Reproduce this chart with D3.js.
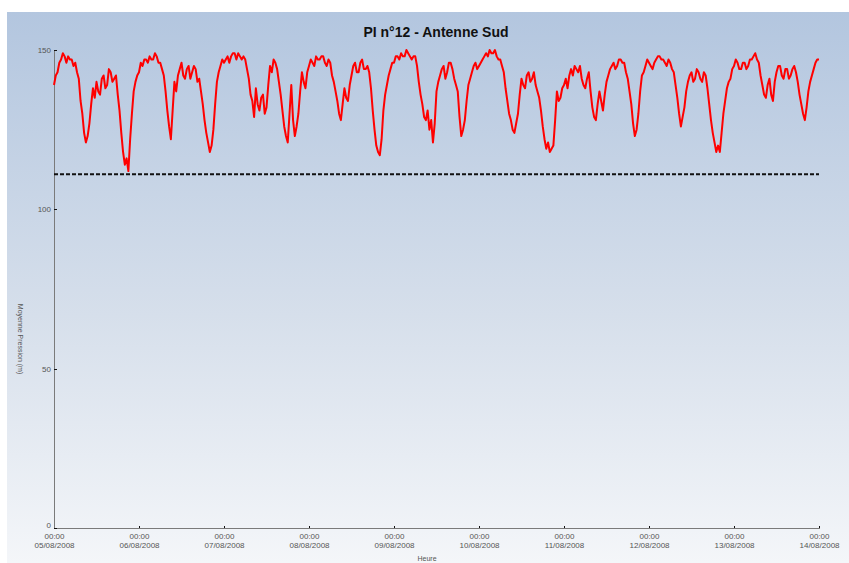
<!DOCTYPE html>
<meta charset="utf-8">
<title>PI n°12 - Antenne Sud</title>
<style>

body {
  margin: 0;
  background: #fff;
  font-family: "Liberation Sans", Arial, sans-serif;
}

.axis path,
.axis line {
  fill: none;
  stroke: #7a7a7a;
  shape-rendering: crispEdges;
}

.axis text {
  fill: #555;
  font-size: 8px;
}

.line {
  fill: none;
  stroke: #ff0000;
  stroke-width: 2px;
  stroke-linejoin: round;
}

</style>
<body>
<svg id="chart"></svg>

<script src="https://d3js.org/d3.v7.min.js"></script>
<script>

// mean pressure (m) every 30 min, from 05/08/2008 00:00 to 14/08/2008 00:00
var startDate = new Date(2008, 7, 5, 0, 0);
var endDate = new Date(2008, 7, 14, 0, 0);
var stepMinutes = 30;

var pressure = [
  // 05/08
  139, 142, 143, 146, 147, 149, 148, 146, 148, 147, 147, 145, 146, 143, 141, 134, 130, 124, 121, 123, 127, 133, 138, 135,
  140, 137, 136, 141, 142, 138, 139, 144, 143, 140, 141, 142, 136, 131, 124, 118, 114, 116, 112, 122, 130, 137, 140, 142,
  // 06/08
  143, 146, 145, 147, 147, 146, 148, 147, 147, 149, 148, 146, 146, 144, 142, 137, 131, 126, 122, 131, 140, 137, 142, 144,
  146, 142, 141, 144, 145, 141, 143, 145, 144, 140, 141, 137, 133, 128, 124, 121, 118, 120, 125, 133, 140, 143, 145, 147,
  // 07/08
  146, 147, 148, 146, 148, 149, 149, 147, 149, 148, 147, 148, 147, 144, 141, 136, 134, 129, 138, 133, 131, 135, 136, 130,
  132, 139, 145, 143, 147, 146, 144, 140, 136, 131, 126, 123, 121, 130, 139, 128, 123, 126, 130, 137, 143, 140, 138, 143,
  // 08/08
  145, 147, 146, 145, 148, 147, 147, 148, 148, 146, 145, 147, 146, 142, 140, 137, 134, 130, 128, 133, 138, 135, 134, 139,
  142, 145, 146, 143, 143, 146, 147, 144, 144, 145, 143, 138, 131, 125, 120, 118, 117, 122, 131, 136, 139, 142, 144, 146,
  // 09/08
  146, 148, 148, 147, 149, 148, 148, 150, 149, 148, 147, 148, 148, 145, 140, 136, 133, 129, 128, 131, 125, 128, 121, 127,
  137, 140, 142, 144, 145, 141, 143, 146, 146, 144, 141, 139, 137, 129, 123, 125, 128, 134, 139, 141, 143, 145, 146, 144,
  // 10/08
  145, 146, 147, 148, 149, 148, 150, 149, 149, 150, 148, 147, 147, 145, 143, 138, 134, 130, 128, 125, 124, 127, 130, 136,
  141, 139, 138, 142, 143, 140, 141, 143, 139, 137, 135, 131, 126, 122, 119, 121, 118, 119, 120, 128, 137, 134, 135, 138,
  // 11/08
  139, 141, 138, 142, 144, 142, 145, 144, 143, 145, 141, 139, 138, 141, 143, 137, 132, 129, 128, 133, 137, 134, 131, 136,
  140, 142, 144, 145, 146, 144, 145, 147, 147, 146, 146, 143, 141, 137, 133, 127, 123, 125, 130, 137, 142, 143, 145, 147,
  // 12/08
  146, 145, 144, 146, 147, 148, 148, 147, 147, 146, 145, 147, 146, 144, 143, 139, 135, 130, 126, 129, 132, 137, 140, 142,
  143, 140, 141, 144, 143, 141, 140, 143, 142, 138, 133, 128, 124, 121, 118, 120, 118, 124, 130, 134, 138, 140, 141, 144,
  // 13/08
  145, 147, 146, 144, 144, 146, 146, 144, 145, 147, 147, 148, 149, 147, 146, 142, 139, 136, 135, 139, 141, 136, 134, 140,
  143, 145, 145, 142, 141, 144, 144, 141, 142, 144, 145, 143, 140, 136, 133, 130, 128, 132, 137, 140, 142, 144, 146, 147,
  // 14/08
  147
];

var threshold = 111;

var yTicks = [0, 50, 100, 150];

var chartTitle = "PI n°12 - Antenne Sud";
var xTitle = "Heure";
var yTitle = "Moyenne Pression (m)";

var data = pressure.map(function(v, i) {
  return { date: d3.timeMinute.offset(startDate, i * stepMinutes), value: v };
});

var W = 849, H = 563;
var margin = {top: 50, right: 29, bottom: 35, left: 54},
    width = W - margin.left - margin.right,
    height = H - margin.top - margin.bottom;

var svg = d3.select("#chart")
    .attr("width", W)
    .attr("height", H);

// panel background gradient
var defs = svg.append("defs");
var grad = defs.append("linearGradient")
    .attr("id", "bg")
    .attr("x1", 0).attr("y1", 0)
    .attr("x2", 0).attr("y2", 1);
grad.append("stop").attr("offset", "0%").attr("stop-color", "#b3c6df");
grad.append("stop").attr("offset", "55%").attr("stop-color", "#d6dfeb");
grad.append("stop").attr("offset", "100%").attr("stop-color", "#f4f6f9");

svg.append("rect")
    .attr("x", 7)
    .attr("y", 12)
    .attr("width", W - 7)
    .attr("height", H - 12)
    .attr("fill", "url(#bg)");

svg.append("text")
    .attr("x", 436)
    .attr("y", 37)
    .attr("text-anchor", "middle")
    .style("font-size", "14px")
    .style("font-weight", "bold")
    .style("fill", "#111")
    .text(chartTitle);

var g = svg.append("g")
    .attr("transform", "translate(" + margin.left + "," + margin.top + ")");

var x = d3.scaleTime()
    .domain([startDate, endDate])
    .range([0, width - 1]);

var y = d3.scaleLinear()
    .domain([0, 150])
    .range([height, 0]);

var xAxis = d3.axisBottom(x)
    .tickValues(d3.timeDay.range(startDate, d3.timeDay.offset(endDate, 1)))
    .tickSizeInner(-2)
    .tickSizeOuter(0)
    .tickFormat("");

var yAxis = d3.axisLeft(y)
    .tickValues(yTicks)
    .tickSizeInner(-3)
    .tickSizeOuter(0)
    .tickFormat(d3.format("d"));

var gx = g.append("g")
    .attr("class", "x axis")
    .attr("transform", "translate(0," + height + ")")
    .call(xAxis);

gx.selectAll(".tick line").style("stroke", "#111");

var fmtTime = d3.timeFormat("%H:%M"),
    fmtDay = d3.timeFormat("%d/%m/%Y");

gx.selectAll(".tick").append("text")
    .attr("y", 11)
    .attr("text-anchor", "middle")
    .each(function(d) {
      var t = d3.select(this);
      t.append("tspan").attr("x", 0).attr("dy", 0).text(fmtTime(d));
      t.append("tspan").attr("x", 0).attr("dy", 9).text(fmtDay(d));
    });

var gy = g.append("g")
    .attr("class", "y axis")
    .call(yAxis);

gy.selectAll(".tick text").attr("x", -3);
gy.selectAll(".tick")
    .filter(function(d) { return d === 0; })
    .select("text")
    .attr("dy", "-0.1em");
gy.selectAll(".tick line").style("stroke", "#111");

g.append("text")
    .attr("x", width / 2 - 10)
    .attr("y", height + 33)
    .attr("text-anchor", "middle")
    .style("font-size", "7px")
    .style("fill", "#555")
    .text(xTitle);

g.append("text")
    .attr("transform", "translate(-36," + (height / 2 + 50) + ") rotate(90)")
    .attr("text-anchor", "middle")
    .style("font-size", "7px")
    .style("fill", "#555")
    .text(yTitle);

var line = d3.line()
    .x(function(d) { return x(d.date); })
    .y(function(d) { return y(d.value); });

g.append("path")
    .datum(data)
    .attr("class", "line")
    .attr("d", line);

g.append("line")
    .attr("x1", x(startDate))
    .attr("x2", x(data[data.length - 1].date))
    .attr("y1", y(threshold))
    .attr("y2", y(threshold))
    .style("stroke", "#111")
    .style("stroke-width", 2)
    .style("stroke-dasharray", "4,2");

</script>
</body>
